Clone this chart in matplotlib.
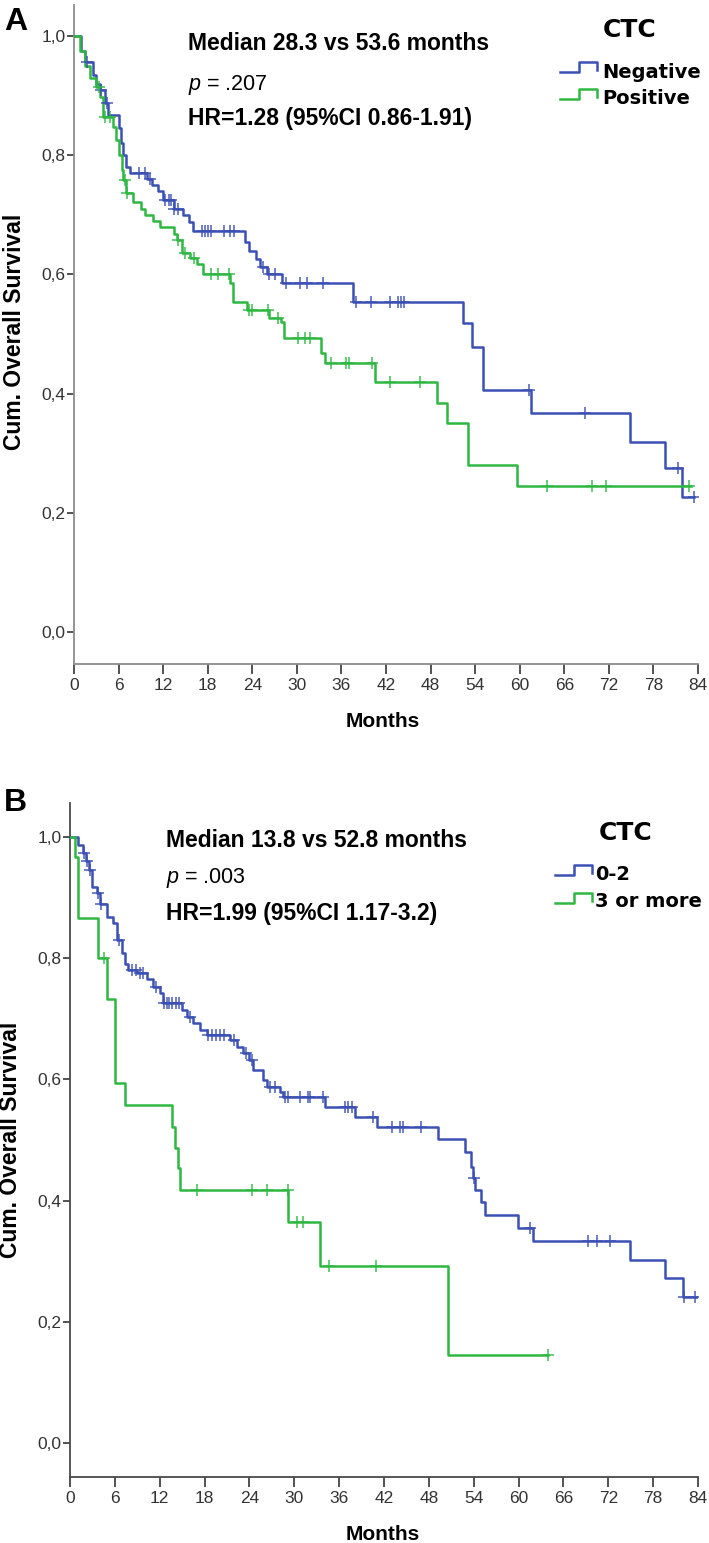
import numpy as np
import matplotlib.pyplot as plt
from matplotlib.lines import Line2D

plt.rcParams["mathtext.fontset"] = "custom"
plt.rcParams["mathtext.it"] = "Liberation Sans:italic"
plt.rcParams["mathtext.rm"] = "Liberation Sans"

# ---- data ----
# Panel A: CTC negative / positive
a_neg_t = [1.0, 1.5, 2.5, 3.0, 3.5, 4.2, 4.6, 6.0, 6.3, 6.6, 7.0, 7.6, 9.8, 10.5, 11.3, 12.0,
           13.5, 14.7, 15.5, 16.0, 23.0, 23.5, 24.5, 25.0, 26.0, 28.0, 37.5, 52.4, 53.6, 55.0,
           61.5, 74.8, 79.5, 81.8]
a_neg_s = [0.975, 0.956, 0.935, 0.92, 0.91, 0.887, 0.867, 0.845, 0.82, 0.80, 0.78, 0.77, 0.76,
           0.75, 0.74, 0.725, 0.71, 0.70, 0.688, 0.672, 0.655, 0.64, 0.625, 0.612, 0.60, 0.585,
           0.554, 0.518, 0.478, 0.406, 0.367, 0.319, 0.275, 0.227]
a_neg_cens = [1.7, 3.6, 4.4, 8.8, 9.5, 10.2, 12.3, 12.8, 13.1, 13.5, 14.0, 17.2, 17.6, 18.0, 18.4,
              20.2, 21.0, 21.6, 25.5, 26.3, 27.0, 28.6, 30.4, 31.4, 33.5, 38.0, 40.0, 42.5, 43.6,
              44.0, 44.4, 61.2, 68.8, 81.3, 83.5]
a_neg_end = 83.5

a_pos_t = [0.8, 1.5, 2.2, 3.0, 3.5, 3.9, 5.3, 5.6, 6.0, 6.4, 6.6, 7.0, 8.0, 9.0, 9.6, 10.7, 11.6,
           13.4, 13.8, 14.5, 15.6, 16.5, 17.4, 21.0, 21.4, 23.3, 26.2, 27.8, 28.3, 33.2, 33.8,
           40.5, 48.8, 50.2, 53.0, 59.6]
a_pos_s = [0.975, 0.95, 0.93, 0.915, 0.898, 0.864, 0.847, 0.825, 0.80, 0.775, 0.758, 0.736, 0.722,
           0.71, 0.70, 0.69, 0.68, 0.668, 0.657, 0.636, 0.628, 0.618, 0.60, 0.585, 0.554, 0.54,
           0.527, 0.52, 0.493, 0.468, 0.451, 0.42, 0.384, 0.35, 0.28, 0.245]
a_pos_cens = [3.3, 4.2, 4.8, 6.8, 7.2, 14.0, 15.0, 16.2, 18.5, 19.4, 20.8, 23.6, 24.0, 26.1, 27.5,
              30.2, 31.1, 31.8, 34.6, 36.6, 37.0, 40.1, 42.5, 46.6, 63.7, 69.7, 71.6, 82.8]
a_pos_end = 83.0

# Panel B: CTC 0-2 / 3 or more
b_low_t = [1.1, 1.8, 2.2, 2.5, 2.9, 3.6, 4.0, 4.9, 5.8, 6.3, 6.9, 7.4, 7.8, 9.0, 10.3, 11.1, 12.0,
           12.4, 15.0, 15.6, 16.5, 17.4, 18.3, 21.4, 22.3, 23.1, 24.0, 24.5, 25.8, 26.3, 28.1,
           28.5, 34.1, 38.1, 41.0, 49.2, 52.8, 53.6, 53.9, 54.2, 55.0, 55.5, 59.9, 61.9, 74.9,
           79.6, 82.0]
b_low_s = [0.987, 0.974, 0.96, 0.945, 0.917, 0.907, 0.89, 0.868, 0.858, 0.83, 0.808, 0.79, 0.78,
           0.775, 0.765, 0.752, 0.742, 0.726, 0.715, 0.703, 0.693, 0.681, 0.674, 0.665, 0.654,
           0.643, 0.632, 0.615, 0.599, 0.588, 0.579, 0.571, 0.555, 0.538, 0.522, 0.502, 0.48,
           0.456, 0.437, 0.418, 0.397, 0.376, 0.355, 0.333, 0.302, 0.272, 0.241]
b_low_cens = [1.9, 2.3, 2.7, 3.7, 4.2, 6.5, 8.3, 8.8, 9.3, 9.8, 11.5, 12.6, 13.0, 13.3, 13.7,
              14.2, 14.6, 16.0, 18.5, 19.0, 19.5, 20.0, 20.6, 22.0, 23.5, 24.3, 26.8, 27.4, 28.8,
              29.2, 30.8, 31.8, 32.1, 33.8, 36.8, 37.2, 37.7, 40.5, 43.1, 44.1, 44.5, 47.0, 54.0,
              61.5, 69.3, 70.5, 72.2, 82.1, 83.6]
b_low_end = 84.0

b_high_t = [0.7, 1.1, 3.8, 4.9, 6.0, 7.3, 13.6, 14.0, 14.4, 14.7, 29.2, 33.4, 50.6]
b_high_s = [0.967, 0.867, 0.80, 0.733, 0.594, 0.558, 0.522, 0.487, 0.454, 0.418, 0.365, 0.292, 0.146]
b_high_cens = [4.6, 17.0, 24.3, 26.3, 29.1, 30.4, 31.2, 34.6, 40.9, 64.0]
b_high_end = 64.0

x_ticks = list(range(0, 85, 6))
y_ticks = [0.0, 0.2, 0.4, 0.6, 0.8, 1.0]
y_tick_labels = ["0,0", "0,2", "0,4", "0,6", "0,8", "1,0"]

BLUE = "#3b50b4"
GREEN = "#2eb843"
W, H = 709, 1543
ARIAL = ["Liberation Sans", "DejaVu Sans"]


def km(ax, times, surv, cens, end, color):
    x = np.r_[0, times, end]
    y = np.r_[1, surv, surv[-1]]
    ax.step(x, y, where="post", color=color, lw=1.8, zorder=3)
    idx = np.searchsorted(times, cens, side="right")
    cy = np.r_[1, surv][idx]
    ax.plot(cens, cy, "+", color=color, ms=9, mew=1.2, alpha=0.85, zorder=4)


def style(ax, ylo, yhi, spine_color):
    ax.set_xlim(0, 84)
    ax.set_ylim(ylo, yhi)
    for s in ["top", "right"]:
        ax.spines[s].set_visible(False)
    for s in ["left", "bottom"]:
        ax.spines[s].set_color(spine_color)
        ax.spines[s].set_linewidth(1.3)
    ax.set_xticks(x_ticks)
    ax.set_xticklabels([str(v) for v in x_ticks], family=ARIAL, fontsize=12.5, color="#333333")
    ax.set_yticks(y_ticks)
    ax.set_yticklabels(y_tick_labels, family=ARIAL, fontsize=12.5, color="#333333")
    ax.tick_params(axis="x", length=7, width=1.3, color="#444444", pad=3)
    ax.tick_params(axis="y", length=5, width=1.3, color="#444444", pad=1)


def ftext(x, y, s, **kw):
    fig.text(x / W, 1 - y / H, s, **kw)


def legend_handle(x0, x1, ylow, yhigh, color):
    xm = (x0 + x1) / 2
    xs = [x0, xm, xm, x1, x1]
    ys = [ylow, ylow, yhigh, yhigh, ylow - 2]
    fig.add_artist(Line2D([v / W for v in xs], [1 - v / H for v in ys],
                          transform=fig.transFigure, color=color, lw=1.8))


fig = plt.figure(figsize=(W / 100, H / 100), dpi=100)

# ---- Panel A ----
axA = fig.add_axes([74 / W, 1 - 664 / H, (698 - 74) / W, (664 - 5) / H])
style(axA, -0.0537, 1.052, "#8c8c8c")
km(axA, a_neg_t, a_neg_s, a_neg_cens, a_neg_end, BLUE)
km(axA, a_pos_t, a_pos_s, a_pos_cens, a_pos_end, GREEN)

# ---- Panel B ----
axB = fig.add_axes([70 / W, 1 - 1477 / H, (698 - 70) / W, (1477 - 803) / H])
style(axB, -0.056, 1.056, "#4a4a4a")
km(axB, b_low_t, b_low_s, b_low_cens, b_low_end, BLUE)
km(axB, b_high_t, b_high_s, b_high_cens, b_high_end, GREEN)

# panel letters
ftext(4, 30, "A", fontsize=23, fontweight="bold", family=ARIAL)
ftext(4, 811, "B", fontsize=23, fontweight="bold", family=ARIAL)

# annotations
ftext(188, 50, "Median 28.3 vs 53.6 months", fontsize=16.5, fontweight="bold", family=ARIAL)
ftext(188, 90, r"$\mathit{p}$ = .207", fontsize=15.5, family=ARIAL)
ftext(188, 125, "HR=1.28 (95%CI 0.86-1.91)", fontsize=16.5, fontweight="bold", family=ARIAL)

ftext(166, 847, "Median 13.8 vs 52.8 months", fontsize=16.5, fontweight="bold", family=ARIAL)
ftext(166, 883, r"$\mathit{p}$ = .003", fontsize=15.5, family=ARIAL)
ftext(166, 920, "HR=1.99 (95%CI 1.17-3.2)", fontsize=16.5, fontweight="bold", family=ARIAL)

# legends
ftext(630, 37, "CTC", fontsize=18, fontweight="bold", family="DejaVu Sans", ha="center")
ftext(602, 78, "Negative", fontsize=14, fontweight="bold", family="DejaVu Sans")
ftext(602, 104, "Positive", fontsize=14, fontweight="bold", family="DejaVu Sans")
legend_handle(560, 597, 72, 62, BLUE)
legend_handle(560, 597, 99, 89, GREEN)

ftext(626, 840, "CTC", fontsize=18, fontweight="bold", family="DejaVu Sans", ha="center")
ftext(595, 880, "0-2", fontsize=14, fontweight="bold", family="DejaVu Sans")
ftext(595, 907, "3 or more", fontsize=14, fontweight="bold", family="DejaVu Sans")
legend_handle(555, 592, 875, 865, BLUE)
legend_handle(555, 592, 903, 893, GREEN)

# axis titles
ftext(15, 332, "Cum. Overall Survival", fontsize=16.5, fontweight="bold", family=ARIAL,
      rotation=90, ha="center", va="center")
ftext(11, 1140, "Cum. Overall Survival", fontsize=16.5, fontweight="bold", family=ARIAL,
      rotation=90, ha="center", va="center")
ftext(383, 722, "Months", fontsize=15, fontweight="bold", family=ARIAL, ha="center", va="center")
ftext(383, 1535, "Months", fontsize=15, fontweight="bold", family=ARIAL, ha="center", va="center")

fig.savefig("out.png", dpi=100)
